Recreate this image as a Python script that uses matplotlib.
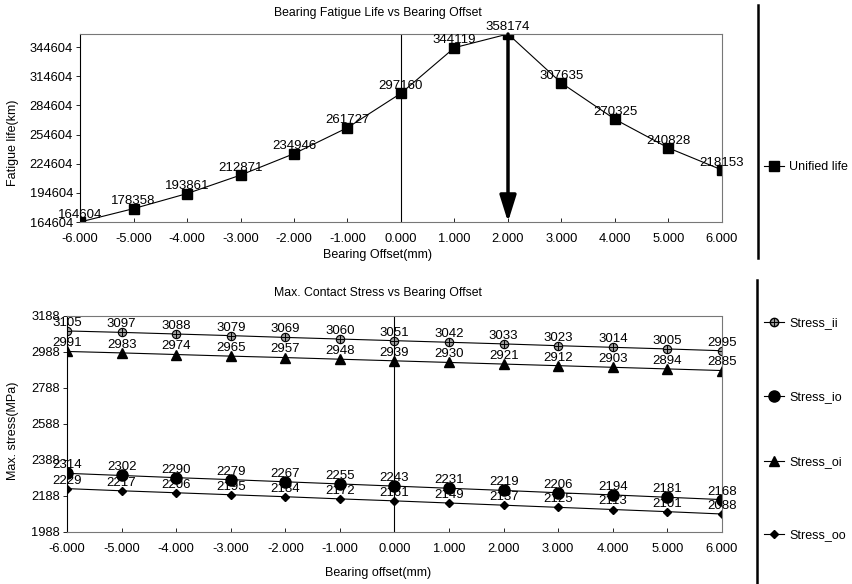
import matplotlib
matplotlib.use("Agg")
import matplotlib.pyplot as plt
from matplotlib.lines import Line2D
from matplotlib.legend_handler import HandlerTuple
import numpy as np

plt.rcParams['font.family'] = ['Liberation Sans', 'DejaVu Sans']

offsets = [-6, -5, -4, -3, -2, -1, 0, 1, 2, 3, 4, 5, 6]
unified_life = [164604, 178358, 193861, 212871, 234946, 261727, 297160,
                344119, 358174, 307635, 270325, 240828, 218153]
stress_ii = [3105, 3097, 3088, 3079, 3069, 3060, 3051, 3042, 3033, 3023, 3014, 3005, 2995]
stress_io = [2314, 2302, 2290, 2279, 2267, 2255, 2243, 2231, 2219, 2206, 2194, 2181, 2168]
stress_oi = [2991, 2983, 2974, 2965, 2957, 2948, 2939, 2930, 2921, 2912, 2903, 2894, 2885]
stress_oo = [2229, 2217, 2206, 2195, 2184, 2172, 2161, 2149, 2137, 2125, 2113, 2101, 2088]
life_ticks = [164604, 194604, 224604, 254604, 284604, 314604, 344604]
stress_ticks = [1988, 2188, 2388, 2588, 2788, 2988, 3188]
optimum_offset = 2

W, H = 853, 584
fig = plt.figure(figsize=(W / 100, H / 100), dpi=100)

def px_axes(l, t, r, b):
    return fig.add_axes([l / W, 1 - b / H, (r - l) / W, (b - t) / H])

tick_fs = 9.3
lab_fs = 9
title_fs = 8.8
ann_fs = 9.5
leg_fs = 9

def style(ax):
    for s in ax.spines.values():
        s.set_color('#777777')
        s.set_linewidth(0.8)
        s.set_linestyle((0, (2, 1)))
    ax.spines['left'].set_color('black')
    ax.spines['left'].set_linestyle('-')
    ax.tick_params(axis='both', length=3, width=0.6, labelsize=tick_fs, pad=2)
    ax.tick_params(axis='x', direction='in', pad=8)
    ax.set_xlim(-6, 6)
    ax.set_xticks(offsets)
    ax.set_xticklabels([f"{v:.3f}" for v in offsets])
    ax.axvline(0, color='black', lw=0.8)

# ---- top chart ----
T1 = (80, 34, 722, 222)
ax1 = px_axes(*T1)
style(ax1)
ax1.plot(offsets, unified_life, color='black', lw=0.8, marker='s', ms=6.5)
ax1.set_ylim(life_ticks[0], max(unified_life))
ax1.set_yticks(life_ticks)
ax1.set_yticklabels([str(v) for v in life_ticks])
for x, y in zip(offsets, unified_life):
    ax1.annotate(str(y), (x, y), xytext=(0, 1), textcoords='offset points',
                 ha='center', va='bottom', fontsize=ann_fs)
ax1.annotate('', xy=(optimum_offset, life_ticks[0]), xytext=(optimum_offset, max(unified_life)),
             arrowprops=dict(arrowstyle='-|>,head_length=1.6,head_width=0.5', lw=2.5,
                             color='black', shrinkA=0, shrinkB=0, mutation_scale=10),
             annotation_clip=False)
fig.text(378 / W, 1 - 13 / H, 'Bearing Fatigue Life vs Bearing Offset', fontsize=title_fs,
         ha='center', va='center')
ax1.set_xlabel('Bearing Offset(mm)', fontsize=lab_fs)
ax1.xaxis.set_label_coords((378 - T1[0]) / (T1[2] - T1[0]), (T1[3] - 249) / (T1[3] - T1[1]))
ax1.set_ylabel('Fatigue life(km)', fontsize=lab_fs)
ax1.yaxis.set_label_coords((19 - T1[0]) / (T1[2] - T1[0]), (T1[3] - 143) / (T1[3] - T1[1]))

# ---- bottom chart ----
T2 = (67, 316, 722, 532)
ax2 = px_axes(*T2)
style(ax2)
ax2.plot(offsets, stress_ii, color='black', lw=0.8, marker='o', ms=6,
         mfc='#9a9a9a', mec='black', mew=0.8)
ax2.plot(offsets, stress_ii, ls='none', marker='+', ms=6, color='black', mew=0.7)
ax2.plot(offsets, stress_io, color='black', lw=0.8, marker='o', ms=8)
ax2.plot(offsets, stress_oi, color='black', lw=0.8, marker='^', ms=6.5)
ax2.plot(offsets, stress_oo, color='black', lw=0.8, marker='D', ms=4.5)
ax2.set_ylim(stress_ticks[0], stress_ticks[-1])
ax2.set_yticks(stress_ticks)
ax2.set_yticklabels([str(v) for v in stress_ticks])
for series in (stress_ii, stress_io, stress_oi, stress_oo):
    for x, y in zip(offsets, series):
        ax2.annotate(str(y), (x, y), xytext=(0, 1.5), textcoords='offset points',
                     ha='center', va='bottom', fontsize=ann_fs)
fig.text(378 / W, 1 - 293 / H, 'Max. Contact Stress vs Bearing Offset', fontsize=title_fs,
         ha='center', va='center')
ax2.set_xlabel('Bearing offset(mm)', fontsize=lab_fs)
ax2.xaxis.set_label_coords((378 - T2[0]) / (T2[2] - T2[0]), (T2[3] - 567) / (T2[3] - T2[1]))
ax2.set_ylabel('Max. stress(MPa)', fontsize=lab_fs)
ax2.yaxis.set_label_coords((19 - T2[0]) / (T2[2] - T2[0]), (T2[3] - 431) / (T2[3] - T2[1]))

# ---- separators ----
fig.add_artist(Line2D([758 / W, 758 / W], [1 - 5 / H, 1 - 258 / H], color='black', lw=1.8))
fig.add_artist(Line2D([757 / W, 757 / W], [1 - 280 / H, 0], color='black', lw=1.8))

# ---- legends ----
def add_leg(handle, label, ypx):
    fig.legend([handle], [label], loc='center left',
               bbox_to_anchor=(764 / W, 1 - ypx / H), frameon=False,
               fontsize=leg_fs, handlelength=1.6, handletextpad=0.4, borderpad=0,
               borderaxespad=0, handler_map={tuple: HandlerTuple(ndivide=1)})

add_leg(Line2D([], [], color='black', lw=0.8, marker='s', ms=6.5), 'Unified life', 167)
add_leg((Line2D([], [], color='black', lw=0.8, marker='o', ms=6, mfc='#9a9a9a', mec='black'),
         Line2D([], [], ls='none', marker='+', ms=6, color='black', mew=0.7)), 'Stress_ii', 323)
add_leg(Line2D([], [], color='black', lw=0.8, marker='o', ms=8), 'Stress_io', 397)
add_leg(Line2D([], [], color='black', lw=0.8, marker='^', ms=6.5), 'Stress_oi', 462)
add_leg(Line2D([], [], color='black', lw=0.8, marker='D', ms=4.5), 'Stress_oo', 535)

fig.savefig('out.png', dpi=100)
